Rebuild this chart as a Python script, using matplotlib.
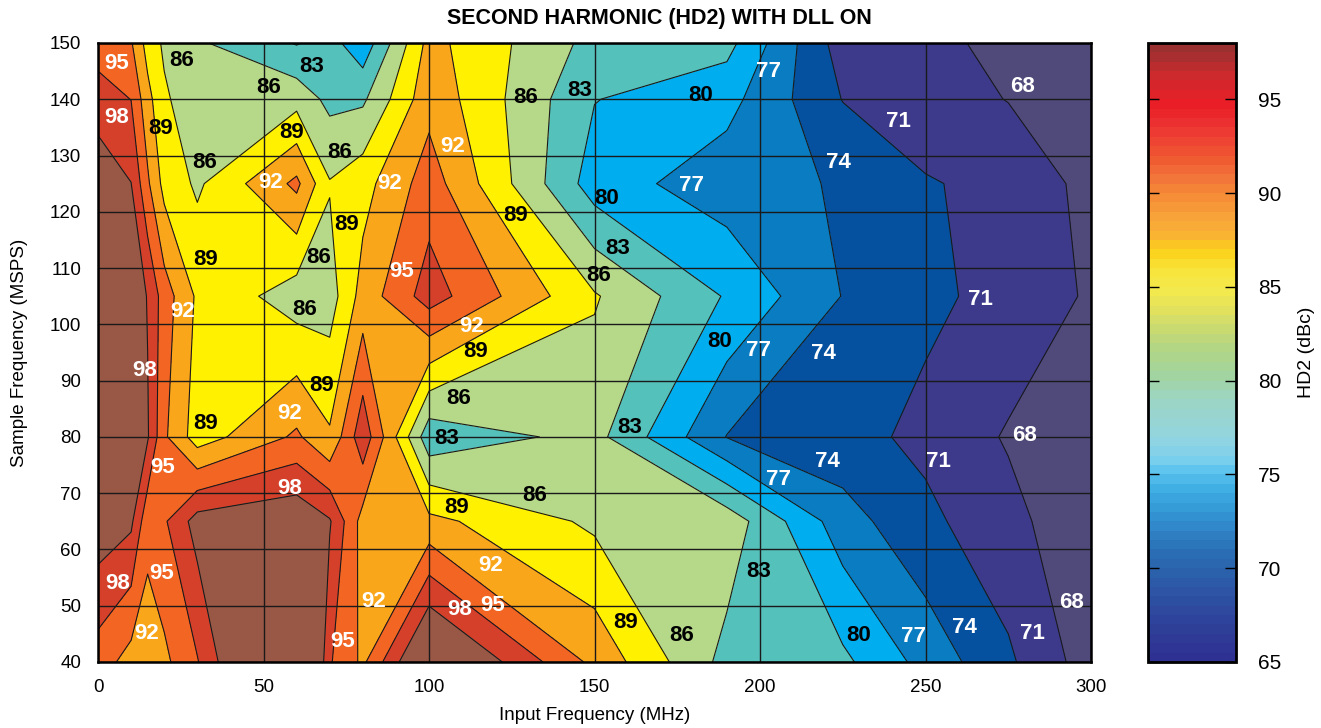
import numpy as np
import matplotlib
matplotlib.use("Agg")
import matplotlib.pyplot as plt
from matplotlib.colors import LinearSegmentedColormap, ListedColormap, Normalize
from matplotlib.cm import ScalarMappable

plt.rcParams['font.family'] = ['Liberation Sans', 'DejaVu Sans']

# input frequency columns (MHz) and sample frequency rows (MSPS)
fin = [0, 10, 15, 20, 30, 60, 70, 80, 100, 150, 190, 225, 250, 275, 300]
fs = [40, 65, 80, 105, 125, 140, 150]

# HD2 (dBc), one list per sample rate
hd2_40 = [93.5, 90.8, 90.5, 91.3, 94.8, 110.0, 95.3, 91.4, 103.4, 91.2, 82.0, 80.66, 75.97, 71.5, 66.5]
hd2_65 = [100.0, 98.6, 92.9, 94.6, 99.3, 100.5, 98.3, 90.8, 89.8, 85.4, 84.8, 75.3, 71.7, 69.0, 65.5]
hd2_80 = [101.0, 101.0, 98.3, 92.5, 87.5, 92.5, 89.4, 97.0, 81.0, 84.0, 73.9, 72.0, 70.3, 67.7, 67.0]
hd2_105 = [101.0, 100.5, 97.8, 93.5, 88.5, 84.45, 84.6, 90.2, 96.4, 86.3, 79.7, 73.9, 71.6, 70.1, 67.6]
hd2_125 = [100.0, 98.05, 92.5, 88.0, 85.5, 92.7, 86.2, 87.9, 93.5, 78.5, 75.3, 73.7, 71.2, 70.3, 67.0]
hd2_140 = [96.5, 94.95, 90.0, 86.5, 83.9, 84.9, 82.2, 82.5, 91.0, 80.1, 78.0, 70.9, 69.5, 67.9, 66.8]
hd2_150 = [93.5, 92.3, 87.8, 85.5, 83.4, 79.8, 81.1, 78.0, 90.0, 82.0, 81.0, 69.5, 68.5, 67.5, 66.5]

levels = [60, 68, 71, 74, 77, 80, 83, 86, 89, 92, 95, 98, 115]
band_colors = ['#4f4a7a', '#3d3a8b', '#06519f', '#0a7cc1', '#00aeef', '#55c1bb',
               '#b6d989', '#fff100', '#f9a61b', '#f26522', '#d5402b', '#995845']

# contour labels (text, input freq, sample freq)
lab_txt = ['95', '98', '86', '83', '86', '89', '86', '89', '86', '92', '92', '92',
           '89', '89', '89', '86', '95', '86', '92', '86', '92', '89', '98', '89',
           '86', '89', '92', '83', '95', '98', '86', '89', '98', '95', '92', '92',
           '95', '98', '92', '95', '89', '86', '83', '80', '77', '74', '71', '68',
           '83', '83', '80', '83', '86', '80', '77', '77', '74', '71', '68', '71',
           '80', '77', '74', '74', '77', '71', '68']
lab_x = [5.5, 5.5, 25.3, 64.6, 51.4, 19.0, 32.2, 58.4, 73.0, 107.2, 52.0, 88.0,
         75.1, 126.1, 32.5, 66.7, 91.6, 151.3, 25.6, 62.5, 112.9, 114.1, 14.2, 67.6,
         109.0, 32.5, 58.0, 105.4, 19.6, 58.0, 131.8, 108.4, 5.8, 19.3, 118.6, 83.2,
         119.3, 109.1, 14.8, 73.9, 159.4, 176.2, 199.6, 229.9, 246.4, 261.8, 282.4, 294.2,
         160.6, 157.0, 153.7, 145.6, 129.1, 182.2, 202.6, 179.2, 223.6, 241.9, 279.4, 266.5,
         187.9, 199.6, 219.1, 220.3, 205.6, 253.9, 280.0]
lab_y = [146.4, 136.7, 146.9, 145.8, 142.0, 134.8, 128.7, 134.1, 130.5, 131.6, 125.2, 125.0,
         117.7, 119.3, 111.5, 111.8, 109.4, 108.7, 102.2, 102.6, 99.6, 95.2, 91.8, 89.1,
         86.9, 82.4, 84.1, 79.7, 74.6, 70.9, 69.5, 67.4, 54.0, 55.7, 57.1, 50.7,
         50.0, 49.3, 45.0, 43.6, 47.0, 44.7, 56.1, 44.7, 44.5, 46.1, 45.0, 50.5,
         81.7, 113.4, 122.3, 141.5, 140.3, 140.6, 144.9, 124.6, 128.7, 136.0, 142.2, 104.5,
         96.9, 95.3, 94.8, 75.6, 72.4, 75.6, 80.2]

X, Y = np.meshgrid(fin, fs)
Z = np.array([hd2_40, hd2_65, hd2_80, hd2_105, hd2_125, hd2_140, hd2_150])

fig = plt.figure(figsize=(13.21, 7.28), dpi=100)
ax = fig.add_axes([0.0742, 0.0907, 0.7517, 0.8503])

ax.contourf(X, Y, Z, levels=levels, colors=band_colors, zorder=1)
ax.contour(X, Y, Z, levels=levels[1:-1], colors='#1a1a1a', linewidths=0.8, zorder=2)

ax.set_xlim(0, 300)
ax.set_ylim(40, 150)
ax.set_xticks(range(0, 301, 50))
ax.set_yticks(range(40, 151, 10))
ax.grid(True, color='#1a1a1a', linewidth=1.0, zorder=3)
ax.set_axisbelow(False)
ax.tick_params(labelsize=13.5, length=0)
ax.tick_params(axis='x', pad=12)
ax.tick_params(axis='y', pad=12)
for s in ax.spines.values():
    s.set_linewidth(1.8)
    s.set_zorder(5)

for t, x, y in zip(lab_txt, lab_x, lab_y):
    v = int(t)
    col = 'black' if 80 <= v <= 89 else 'white'
    ax.text(x, y, t, color=col, fontsize=16, fontweight='bold',
            ha='center', va='center', zorder=6)

ax.set_xlabel('Input Frequency (MHz)', fontsize=13.5, labelpad=8)
ax.set_ylabel('Sample Frequency (MSPS)', fontsize=13.5, labelpad=16)
fig.text(0.499, 0.975, 'SECOND HARMONIC (HD2) WITH DLL ON', fontsize=15.5,
         fontweight='bold', ha='center', va='center')

# colorbar with a striped jet-like scale
cb_vals = [65, 67, 69, 70, 71, 72, 73, 74, 75, 75.5, 76.5, 77.5, 79, 80, 81,
           82, 83, 84, 85, 86, 87, 88, 89, 90, 91, 92, 93, 94, 95, 96.5, 98]
cb_cols = ['#2e3192', '#2e449b', '#2c5aa8', '#2a66ae', '#2b73b9', '#3186c8', '#3399d6',
           '#3eaee3', '#5bc3ee', '#75cdee', '#8dd4e5', '#96d5d6', '#9cd5c4', '#a0d4a8',
           '#a8d592', '#b8d67e', '#cfdc6c', '#e6e35a', '#f4ea4b', '#f8e43a', '#fcd21b',
           '#f9b233', '#f7a23a', '#f58a36', '#f2733a', '#ef5a30', '#ee4334', '#ec2f30',
           '#ea1e26', '#cf2a2d', '#9a3030']
pos = [(v - 65) / 33 for v in cb_vals]
smooth = LinearSegmentedColormap.from_list('hd2', list(zip(pos, cb_cols)))
striped = ListedColormap(smooth(np.linspace(0, 1, 66)))

cax = fig.add_axes([0.8690, 0.0907, 0.0666, 0.8503])
cb = fig.colorbar(ScalarMappable(norm=Normalize(65, 98), cmap=striped), cax=cax,
                  ticks=[65, 70, 75, 80, 85, 90, 95])
cb.outline.set_linewidth(2)
cax.tick_params(direction='in', length=8, width=1, left=True, right=True,
                labelsize=15, pad=16)
cb.set_label('HD2 (dBc)', fontsize=14, labelpad=12)

fig.savefig('out.png', dpi=100)
